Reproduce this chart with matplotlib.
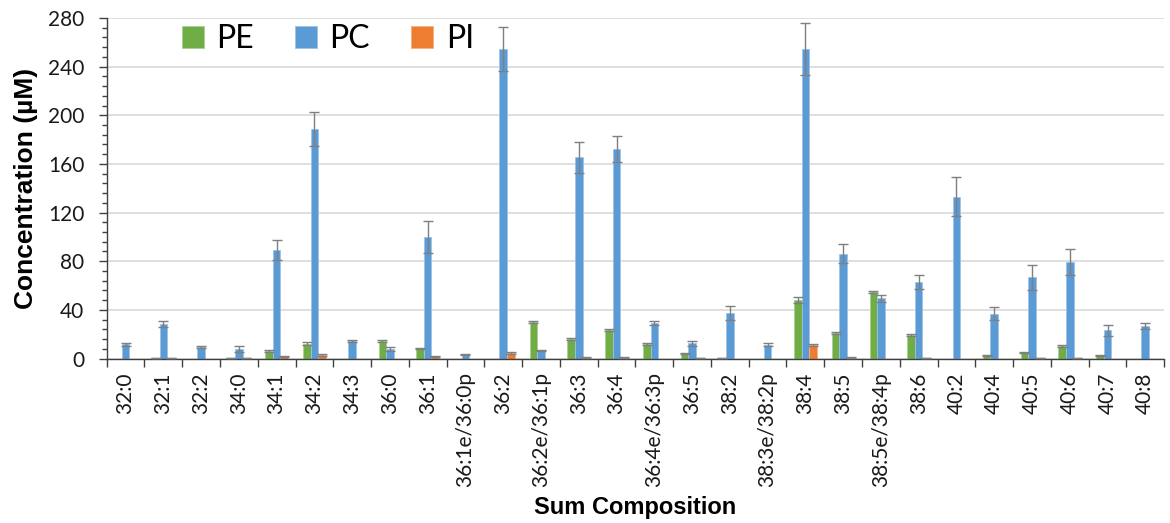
import matplotlib
matplotlib.use("Agg")
import matplotlib.pyplot as plt
from matplotlib.ticker import MultipleLocator
import numpy as np

# lipid species on the x axis
categories = ["32:0", "32:1", "32:2", "34:0", "34:1", "34:2", "34:3", "36:0", "36:1",
              "36:1e/36:0p", "36:2", "36:2e/36:1p", "36:3", "36:4", "36:4e/36:3p", "36:5",
              "38:2", "38:3e/38:2p", "38:4", "38:5", "38:5e/38:4p", "38:6",
              "40:2", "40:4", "40:5", "40:6", "40:7", "40:8"]

pe = [0, 0.5, 0, 0.5, 6.2, 12.2, 0, 14.5, 8.4, 0, 0, 29.8, 16.3, 23.2, 11.8, 4.0,
      0.5, 0, 47.9, 21.0, 54.5, 19.6, 0, 2.3, 5.1, 10.3, 2.6, 0]
pe_err = [0, 0.3, 0, 0.3, 0.6, 1.2, 0, 0.8, 0.6, 0, 0, 0.8, 0.8, 0.8, 0.8, 0.5,
          0.3, 0, 2.5, 1.0, 1.0, 0.8, 0, 0.5, 0.5, 0.8, 0.5, 0]

pc = [11.7, 28.5, 9.7, 7.8, 89.3, 188.6, 14.2, 7.8, 100.0, 3.0, 254.5, 6.7, 165.3, 172.2,
      29.2, 12.5, 37.4, 11.4, 254.5, 86.3, 49.5, 63.0, 133.2, 36.9, 66.8, 79.4, 23.2, 26.9]
pc_err = [1.0, 2.5, 0.8, 2.5, 8.0, 14.0, 1.0, 2.0, 13.0, 0.5, 18.0, 0.5, 13.0, 11.0,
          2.0, 2.0, 6.0, 1.0, 21.0, 7.5, 3.0, 5.5, 16.0, 5.5, 10.5, 10.5, 4.7, 2.7]

pi = [0, 0.5, 0, 0.3, 1.8, 3.0, 0, 0, 1.5, 0, 4.5, 0, 0.8, 1.0, 0, 0.5,
      0, 0, 10.8, 1.0, 0, 0.5, 0, 0, 0.4, 0.4, 0, 0]
pi_err = [0, 0.3, 0, 0.2, 0.4, 0.8, 0, 0, 0.4, 0, 0.6, 0, 0.3, 0.3, 0, 0.2,
          0, 0, 0.8, 0.3, 0, 0.2, 0, 0, 0.2, 0.2, 0, 0]

series = [("PE", pe, pe_err, "#70AD47", "#A9D18E"),
          ("PC", pc, pc_err, "#5B9BD5", "#9DC3E6"),
          ("PI", pi, pi_err, "#ED7D31", "#F4B183")]

fig = plt.figure(figsize=(11.7, 5.23), dpi=100)
ax = fig.add_axes([0.0912, 0.3145, 0.9038, 0.6511])

x = np.arange(len(categories))
w = 0.2
for i, (name, vals, errs, col, edge) in enumerate(series):
    vals = np.array(vals)
    errs = np.array(errs)
    pos = x + (i - 1) * w
    ax.bar(pos, vals, w, color=col, edgecolor=edge, linewidth=0.6, label=name, zorder=2)
    m = vals > 0
    ax.errorbar(pos[m], vals[m], yerr=errs[m], fmt="none", ecolor="#7F7F7F",
                elinewidth=1.0, capsize=3.5, capthick=1.0, zorder=3)

ax.set_xlim(-0.5, len(categories) - 0.5)
ax.set_ylim(0, 280)
ax.yaxis.set_major_locator(MultipleLocator(40))
ax.yaxis.set_minor_locator(MultipleLocator(8))
ax.grid(axis="y", which="major", color="#D9D9D9", linewidth=1.2, zorder=0)
ax.set_axisbelow(True)

ax.set_xticks(x)
ax.set_xticklabels(categories, rotation=90, fontsize=15, family="Lato", color="#1a1a1a")
ax.set_xticks(np.arange(len(categories) + 1) - 0.5, minor=True)
ax.tick_params(axis="x", which="major", length=0, pad=10)
ax.tick_params(axis="x", which="minor", length=6, width=1, color="#404040")
ax.tick_params(axis="y", which="major", length=6, width=1, color="#404040",
               labelsize=15, pad=10, labelcolor="#1a1a1a")
ax.tick_params(axis="y", which="minor", length=3.5, width=1, color="#404040")
for lab in ax.get_yticklabels():
    lab.set_family("Lato")

for s in ["top", "right"]:
    ax.spines[s].set_visible(False)
for s in ["left", "bottom"]:
    ax.spines[s].set_color("#404040")
    ax.spines[s].set_linewidth(1.0)

ax.set_ylabel("Concentration (µM)", fontsize=19, fontweight="bold",
              family="Liberation Sans", labelpad=7)
ax.set_xlabel("Sum Composition", fontsize=17, fontweight="bold",
              family="Liberation Sans", labelpad=6)

ax.legend(loc="center left", bbox_to_anchor=(0.071, 0.938), ncol=3, frameon=False,
          prop={"family": "Lato", "size": 23}, handlelength=0.69, handleheight=0.69,
          handletextpad=0.38, columnspacing=1.3, borderaxespad=0, borderpad=0)

fig.savefig("out.png", dpi=100)
